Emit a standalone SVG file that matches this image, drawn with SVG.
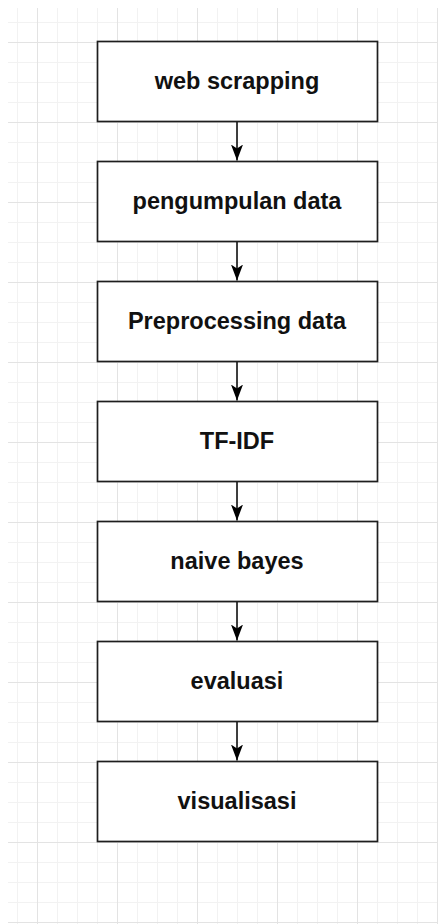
<svg xmlns="http://www.w3.org/2000/svg" width="438" height="924" viewBox="0 0 438 924">
  <style>
    .box { fill: #ffffff; stroke: #1e1e1e; stroke-width: 1.7; }
    .label { font-family: "Liberation Sans", Arial, sans-serif; font-size: 23.5px; font-weight: bold; fill: #111111; text-anchor: middle; }
    .edge { stroke: #000000; stroke-width: 1.5; fill: none; }
  </style>
  <defs>
    <!-- 20px minor grid, 80px major grid -->
    <pattern id="grid" x="37" y="42" width="80" height="80" patternUnits="userSpaceOnUse">
      <rect x="20" y="0" width="1" height="80" fill="#f2f2f2"/>
      <rect x="40" y="0" width="1" height="80" fill="#f2f2f2"/>
      <rect x="60" y="0" width="1" height="80" fill="#f2f2f2"/>
      <rect x="0" y="20" width="80" height="1" fill="#f2f2f2"/>
      <rect x="0" y="40" width="80" height="1" fill="#f2f2f2"/>
      <rect x="0" y="60" width="80" height="1" fill="#f2f2f2"/>
      <rect x="0" y="0" width="1" height="80" fill="#e3e3e3"/>
      <rect x="0" y="0" width="80" height="1" fill="#e3e3e3"/>
    </pattern>
    <!-- notched block arrowhead, drawn along +x so orient="auto" follows the line -->
    <marker id="arrow" viewBox="0 0 16 12" refX="16" refY="6" markerWidth="16" markerHeight="12" markerUnits="userSpaceOnUse" orient="auto">
      <path d="M0,0 L16,6 L0,12 L4,6 Z" fill="#000000"/>
    </marker>
  </defs>

  <rect x="0" y="0" width="438" height="924" fill="#ffffff"/>
  <rect x="8" y="8" width="430" height="916" fill="url(#grid)"/>

  <g id="connectors">
    <line class="edge" x1="237" y1="121.5" x2="237" y2="160.5" marker-end="url(#arrow)"/>
    <line class="edge" x1="237" y1="241.5" x2="237" y2="280.5" marker-end="url(#arrow)"/>
    <line class="edge" x1="237" y1="361.5" x2="237" y2="400.5" marker-end="url(#arrow)"/>
    <line class="edge" x1="237" y1="481.5" x2="237" y2="520.5" marker-end="url(#arrow)"/>
    <line class="edge" x1="237" y1="601.5" x2="237" y2="640.5" marker-end="url(#arrow)"/>
    <line class="edge" x1="237" y1="721.5" x2="237" y2="760.5" marker-end="url(#arrow)"/>
  </g>

  <g id="web-scrapping">
    <rect class="box" x="97.5" y="41.5" width="280" height="80"/>
    <text class="label" x="237" y="89">web scrapping</text>
  </g>
  <g id="pengumpulan-data">
    <rect class="box" x="97.5" y="161.5" width="280" height="80"/>
    <text class="label" x="237" y="209">pengumpulan data</text>
  </g>
  <g id="preprocessing-data">
    <rect class="box" x="97.5" y="281.5" width="280" height="80"/>
    <text class="label" x="237" y="329">Preprocessing data</text>
  </g>
  <g id="tf-idf">
    <rect class="box" x="97.5" y="401.5" width="280" height="80"/>
    <text class="label" x="237" y="449">TF-IDF</text>
  </g>
  <g id="naive-bayes">
    <rect class="box" x="97.5" y="521.5" width="280" height="80"/>
    <text class="label" x="237" y="569">naive bayes</text>
  </g>
  <g id="evaluasi">
    <rect class="box" x="97.5" y="641.5" width="280" height="80"/>
    <text class="label" x="237" y="689">evaluasi</text>
  </g>
  <g id="visualisasi">
    <rect class="box" x="97.5" y="761.5" width="280" height="80"/>
    <text class="label" x="237" y="809">visualisasi</text>
  </g>
</svg>
